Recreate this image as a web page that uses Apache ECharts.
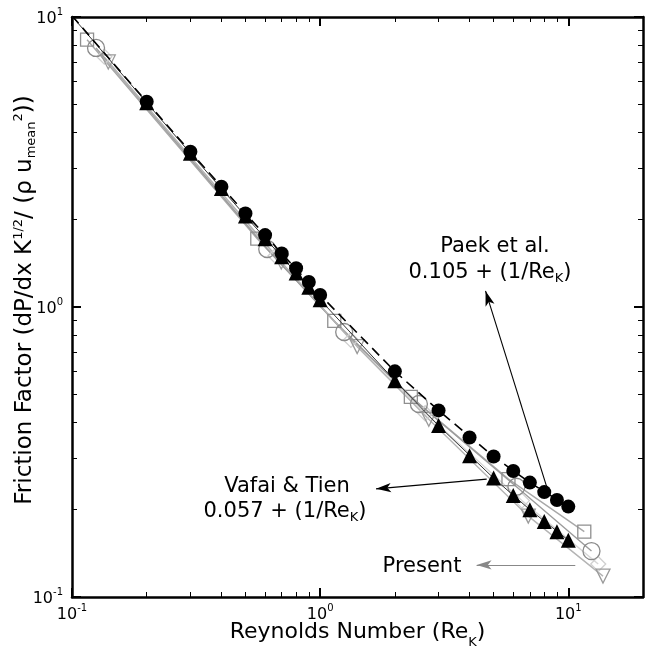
<!DOCTYPE html>
<html><head><meta charset="utf-8">
<script src="https://cdn.jsdelivr.net/npm/echarts@6/dist/echarts.min.js"></script>
<style>html,body{margin:0;padding:0;background:#fff}#c{width:645px;height:647px}</style>
</head><body><div id="c"></div>
<script>
// ---- data ----
const reData = [0.2,0.3,0.4,0.5,0.6,0.7,0.8,0.9,1,2,3,4,5,6,7,8,9,10];
const paekPoints  = [5.1,3.43,2.6,2.1,1.77,1.53,1.36,1.22,1.1,0.6,0.44,0.355,0.305,0.272,0.248,0.23,0.216,0.205];
const vafaiPoints = [5.06,3.39,2.56,2.06,1.72,1.49,1.31,1.17,1.06,0.557,0.39,0.307,0.257,0.224,0.2,0.182,0.168,0.157];
const corrRe    = [0.1,0.2,0.3,0.5,0.7,1,2,3,5,7,10];
const paekLine  = [10.1,5.1,3.43,2.1,1.53,1.1,0.6,0.44,0.305,0.248,0.205];
const vafaiLine = [10.06,5.06,3.39,2.06,1.49,1.06,0.557,0.39,0.257,0.2,0.157];
const presSqRe  = [0.115,0.558,1.14,2.32,5.74,11.6];
const presSqF   = [8.35,1.72,0.895,0.49,0.255,0.168];
const presCiRe  = [0.125,0.612,1.25,2.5,6.18,12.4];
const presCiF   = [7.82,1.585,0.82,0.463,0.24,0.144];
const presTrRe  = [0.14,0.697,1.41,2.74,6.9,13.8];
const presTrF   = [7.0,1.43,0.73,0.41,0.19,0.118];
const presDiRe  = [0.135,0.66,1.33,2.65,6.5,13.2];
const presDiF   = [7.3,1.5,0.77,0.43,0.215,0.13];
const majorTicks = [0.1,1,10];
const minorTicks = [0.2,0.3,0.4,0.5,0.6,0.7,0.8,0.9,2,3,4,5,6,7,8,9];
const paekArrow    = [[8.31,0.23],[4.64,1.136]];
const vafaiArrow   = [[4.69,0.255],[1.68,0.236]];
const presentArrow = [[10.67,0.129],[4.27,0.129]];

const FONT = 'DejaVu Sans';
const zip = (a,b) => a.map((v,i)=>[v,b[i]]);
function powLabel(v){ const e = Math.round(Math.log10(v)); return '{b|10}{s|' + e + '}'; }
const labelRich = {
  b: {fontSize: 16, fontFamily: FONT, color: '#000', lineHeight: 20, verticalAlign: 'bottom'},
  s: {fontSize: 10, fontFamily: FONT, color: '#000', lineHeight: 12, verticalAlign: 'top'}
};
function axis(pos, ticks, len, major, extra){
  const isX = pos === 'bottom' || pos === 'top';
  const a = {
    type: 'log', logBase: 10, position: pos,
    min: 0.1, max: isX ? 20 : 10,
    axisLine: {show: major, lineStyle: {color: '#000', width: 2.5}},
    axisTick: {show: true, inside: true, length: len, customValues: ticks,
               lineStyle: {color: '#000', width: major ? 2 : 1}},
    axisLabel: {show: false},
    splitLine: {show: false}, minorTick: {show: false}, minorSplitLine: {show: false}
  };
  return Object.assign(a, extra || {});
}
const xAxes = [
  axis('bottom', majorTicks, 9, true, {
    axisLabel: {show: true, customValues: majorTicks, formatter: powLabel, rich: labelRich, margin: 6},
    name: '{n|Reynolds Number (Re}{sub|K}{n|)}', nameLocation: 'middle', nameGap: 22, nameMoveOverlap: false,
    nameTextStyle: {rich: {
      n: {fontSize: 22, fontFamily: FONT, color: '#000', lineHeight: 26, verticalAlign: 'middle'},
      sub: {fontSize: 13, fontFamily: FONT, color: '#000', lineHeight: 26, verticalAlign: 'bottom', padding: [0,0,-4,0]}
    }}
  }),
  axis('bottom', minorTicks, 5, false),
  axis('top', majorTicks, 9, true),
  axis('top', minorTicks, 5, false)
];
const yAxes = [
  axis('left', majorTicks, 9, true, {
    axisLabel: {show: true, customValues: majorTicks, formatter: powLabel, rich: labelRich, margin: 9},
    name: '{n|Friction Factor (dP/dx K}{sup|1/2}{n|/ (ρ u}{sub|mean}{sup|2}{n|))}',
    nameLocation: 'middle', nameGap: 34, nameMoveOverlap: false,
    nameTextStyle: {padding: [0,0,0,14], rich: {
      n: {fontSize: 23, fontFamily: FONT, color: '#000', lineHeight: 26, verticalAlign: 'middle'},
      sup: {fontSize: 13, fontFamily: FONT, color: '#000', lineHeight: 26, verticalAlign: 'top', padding: [0,0,8,0]},
      sub: {fontSize: 13, fontFamily: FONT, color: '#000', lineHeight: 26, verticalAlign: 'bottom', padding: [8,0,0,0]}
    }}
  }),
  axis('left', minorTicks, 5, false),
  axis('right', majorTicks, 9, true),
  axis('right', minorTicks, 5, false)
];

function hollow(name, re, f, symbol, size, color, lineColor, rot){
  return {
    name, type: 'line', data: zip(re, f), symbol, symbolSize: size, symbolRotate: rot || 0,
    showAllSymbol: true,
    itemStyle: {color: 'rgba(255,255,255,0)', borderColor: color, borderWidth: 1.3},
    lineStyle: {color: lineColor, width: 1.4}, z: 2, silent: true
  };
}
function arrowLine(pts, color){
  return {silent: true, symbol: ['none','arrow'], symbolSize: [7,15], label: {show: false},
    lineStyle: {color, width: 1.1, type: 'solid'}, emphasis: {disabled: true},
    data: [[{coord: pts[0]}, {coord: pts[1]}]]};
}
const series = [
  hollow('Present sq', presSqRe, presSqF, 'rect', 13, '#8f8f8f', '#a8a8a8'),
  hollow('Present di', presDiRe, presDiF, 'diamond', 15, '#d0d0d0', '#d6d6d6'),
  hollow('Present ci', presCiRe, presCiF, 'circle', 17, '#8a8a8a', '#9c9c9c'),
  hollow('Present tr', presTrRe, presTrF, 'triangle', 14, '#9a9a9a', '#b4b4b4', 180),
  {name: 'Vafai corr', type: 'line', data: zip(corrRe, vafaiLine), showSymbol: false, silent: true,
   lineStyle: {color: '#333', width: 1}, z: 3,
   markLine: arrowLine(vafaiArrow, '#000')},
  {name: 'Paek corr', type: 'line', data: zip(corrRe, paekLine), showSymbol: false, silent: true,
   lineStyle: {color: '#000', width: 1.6, type: [10,6]}, z: 3,
   markLine: arrowLine(paekArrow, '#000')},
  {name: 'Vafai & Tien', type: 'scatter', data: zip(reData, vafaiPoints), symbol: 'triangle', symbolSize: 15,
   itemStyle: {color: '#000', opacity: 1}, z: 4, silent: true,
   markLine: arrowLine(presentArrow, '#888')},
  {name: 'Paek et al.', type: 'scatter', data: zip(reData, paekPoints), symbol: 'circle', symbolSize: 14,
   itemStyle: {color: '#000', opacity: 1}, z: 5, silent: true}
];
const txt = (x, y, text, rich) => ({type: 'text', x, y, silent: true, style: {
  text, x: 0, y: 0, align: 'center', verticalAlign: 'middle', fill: '#000', font: '21px "DejaVu Sans"', rich}});
const annRich = {
  n: {fontSize: 21, fontFamily: FONT, fill: '#000', color: '#000', lineHeight: 24, verticalAlign: 'middle'},
  sub: {fontSize: 13, fontFamily: FONT, fill: '#000', color: '#000', lineHeight: 24, verticalAlign: 'bottom', padding: [10,0,0,0]}
};
const chart = echarts.init(document.getElementById('c'), null, {renderer: 'canvas'});
chart.setOption({
  animation: false,
  backgroundColor: '#fff',
  grid: {left: 72, right: 2, top: 17, bottom: 50, containLabel: false, outerBoundsMode: 'none'},
  xAxis: xAxes, yAxis: yAxes, series,
  graphic: [
    txt(495, 247, '{n|Paek et al.}', annRich),
    txt(490, 273, '{n|0.105 + (1/Re}{sub|K}{n|)}', annRich),
    txt(287, 487, '{n|Vafai & Tien}', annRich),
    txt(285, 512, '{n|0.057 + (1/Re}{sub|K}{n|)}', annRich),
    txt(422, 567, '{n|Present}', annRich)
  ]
});
</script></body></html>
